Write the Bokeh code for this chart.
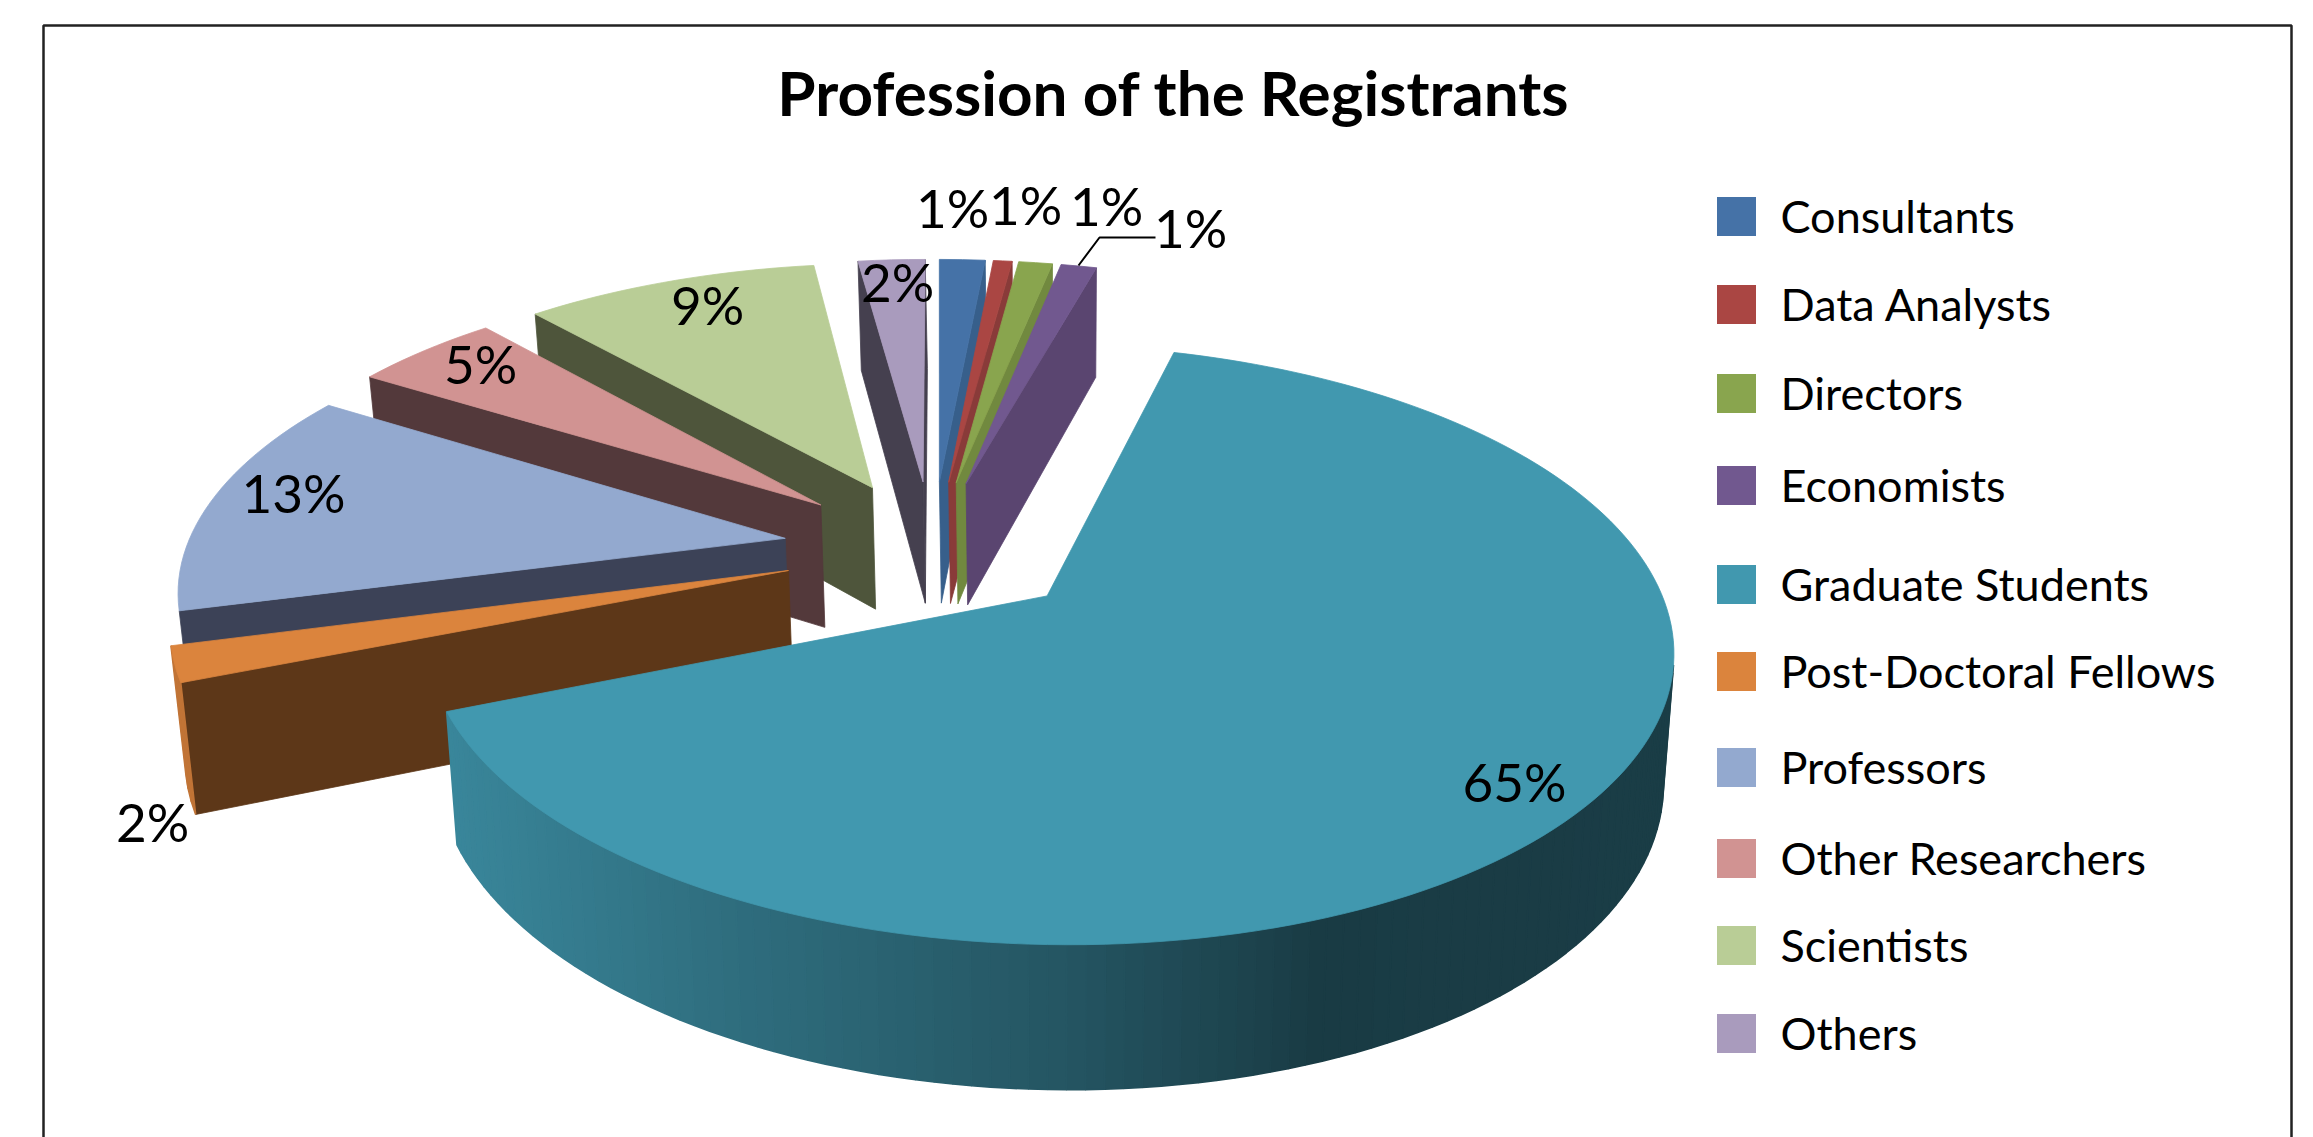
import numpy as np
from bokeh.plotting import figure
from bokeh.models import Range1d
from bokeh.core.properties import value
from bokeh.embed import file_html
from bokeh.resources import INLINE

# ---------- data ----------
TITLE = "Profession of the Registrants"
CATEGORIES = ["Consultants", "Data Analysts", "Directors", "Economists", "Graduate Students",
              "Post-Doctoral Fellows", "Professors", "Other Researchers", "Scientists", "Others"]
SHARES = [1.46, 0.6, 1.08, 1.14, 64.56, 1.97, 12.89, 4.67, 9.39, 2.14]
LABELS = ["1%", "1%", "1%", "1%", "65%", "2%", "13%", "5%", "9%", "2%"]

# ---------- style ----------
COLORS = ["#4572A7", "#AA4643", "#89A54E", "#71588F", "#4198AF",
          "#DB843D", "#93A9CF", "#D19392", "#B9CD96", "#A99BBD"]
WALLS = ["#375F8B", "#893B39", "#71893F", "#5A4570", "#2F6F82",
         "#5D3718", "#3C4257", "#53393B", "#4E553B", "#45404F"]

# ---------- layout (page pixels) ----------
FIG_W, FIG_H = 2313, 1137
ORIGIN_X, ORIGIN_Y = 932.0, 548.0
RADIUS_X, RADIUS_Y = 599.0, 277.0
PERSPECTIVE = 0.158
EXPLODE = 0.25
DEPTH, DEPTH_POWER = 124.7, 0.74
VANISH_X, SHRINK = 1055.0, 0.017
START_DEG = 0.1
LABEL_CENTRES = [(952, 207), (1025, 204), (1106, 205), (1190, 227), (1514, 781),
                 (152, 821), (293, 492), (480, 363), (707, 304), (897, 281)]
LEADER = ([1078, 1099, 1155], [265, 237, 237])
LEGEND_TOPS = [216, 304, 393, 485, 584, 671, 767, 858, 945, 1033]
LEGEND_SWATCH_X, LEGEND_SWATCH_SIZE, LEGEND_TEXT_X = 1736, 39, 1780
FRAME = ([43, 43, 2291, 2291], [1137, 25, 25, 1137])
RIM_X = [454, 733, 1067, 1317, 1670]
RIM_LIGHT = [0.88, 0.72, 0.56, 0.39, 0.40]


def project(u, v, bottom=False):
    s = 1.0 / (1.0 - PERSPECTIVE * v)
    x = ORIGIN_X + RADIUS_X * u * s
    y = ORIGIN_Y + RADIUS_Y * v * s
    if bottom:
        y = y + DEPTH * s ** DEPTH_POWER
        x = VANISH_X + (x - VANISH_X) * (1 - SHRINK)
    return x, y


def shade(hex_color, f):
    rgb = [int(hex_color[i:i + 2], 16) for i in (1, 3, 5)]
    return "#%02x%02x%02x" % tuple(min(255, int(round(c * f))) for c in rgb)


def area(xs, ys):
    return sum(xs[i] * ys[(i + 1) % len(xs)] - xs[(i + 1) % len(xs)] * ys[i] for i in range(len(xs)))


shares = np.array(SHARES, dtype=float)
edges = np.radians(START_DEG + 360.0 * np.concatenate([[0], np.cumsum(shares)]) / shares.sum())
mids = (edges[:-1] + edges[1:]) / 2
apex_u = EXPLODE * np.sin(mids)
apex_v = -EXPLODE * np.cos(mids)

p = figure(width=FIG_W, height=FIG_H, output_backend="svg", toolbar_location=None,
           x_range=Range1d(0, FIG_W), y_range=Range1d(FIG_H, 0),
           min_border=0, outline_line_color=None, background_fill_color="white")
p.axis.visible = False
p.grid.visible = False

pxs, pys, pcs, pws = [], [], [], []


def add(xs, ys, c, w=0.8):
    pxs.append(list(xs))
    pys.append(list(ys))
    pcs.append(c)
    pws.append(w)


for i in np.argsort(apex_v):
    n = max(3, int(np.degrees(edges[i + 1] - edges[i]) / 1.5))
    th = np.linspace(edges[i], edges[i + 1], n)
    u = apex_u[i] + np.sin(th)
    v = apex_v[i] - np.cos(th)
    tx, ty = project(u, v)
    bx, by = project(u, v, True)
    ax, ay = project(apex_u[i], apex_v[i])
    cx, cy = project(apex_u[i], apex_v[i], True)
    # radial walls
    for (x1, y1, x2, y2, x3, y3, x4, y4) in (
            (ax, ay, tx[0], ty[0], bx[0], by[0], cx, cy),
            (tx[-1], ty[-1], ax, ay, cx, cy, bx[-1], by[-1])):
        qx, qy = [x1, x2, x3, x4], [y1, y2, y3, y4]
        if area(qx, qy) < 0:
            add(qx, qy, WALLS[i])
    # outer rim
    for j in range(n - 1):
        qx = [tx[j], tx[j + 1], bx[j + 1], bx[j]]
        qy = [ty[j], ty[j + 1], by[j + 1], by[j]]
        if area(qx, qy) < 0:
            light = np.interp(np.mean(qx), RIM_X, RIM_LIGHT)
            add(qx, qy, shade(COLORS[i], light), 1.6)
    # top face
    add(np.r_[ax, tx], np.r_[ay, ty], COLORS[i])

p.patches(pxs, pys, fill_color=pcs, line_color=pcs, line_width=pws)

# frame
p.line(FRAME[0], FRAME[1], line_color="#222222", line_width=2.5)

# title
p.text([1173], [91], text=[TITLE], text_font=value("Lato"), text_font_style="bold",
       text_font_size="62px", text_color="black", text_align="center", text_baseline="middle")

# data labels
p.line(LEADER[0], LEADER[1], line_color="black", line_width=2)
p.text([c[0] for c in LABEL_CENTRES], [c[1] for c in LABEL_CENTRES], text=LABELS,
       text_font=value("Lato"), text_font_size="53px", text_color="black",
       text_align="center", text_baseline="middle")

# legend
half = LEGEND_SWATCH_SIZE / 2
p.quad(left=[LEGEND_SWATCH_X - half] * 10, right=[LEGEND_SWATCH_X + half] * 10,
       top=[t - half for t in LEGEND_TOPS], bottom=[t + half for t in LEGEND_TOPS],
       fill_color=COLORS, line_color=None)
p.text([LEGEND_TEXT_X] * 10, [t - 1 for t in LEGEND_TOPS], text=CATEGORIES,
       text_font=value("Lato"), text_font_size="45px", text_color="black",
       text_align="left", text_baseline="middle")

open("out.html", "w").write(file_html(p, INLINE))
